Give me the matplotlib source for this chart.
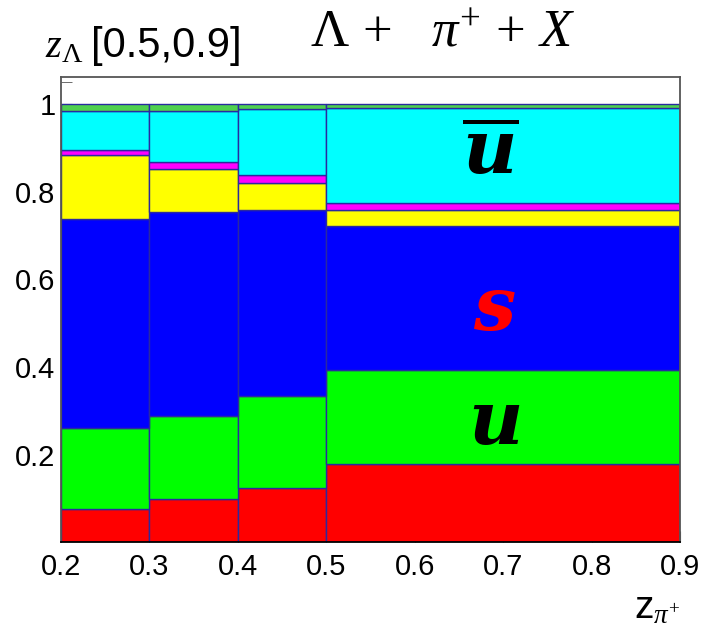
import numpy as np
import matplotlib
matplotlib.use('Agg')
import matplotlib.pyplot as plt

plt.rcParams['font.family'] = ['Liberation Sans', 'DejaVu Sans']
plt.rcParams['mathtext.fontset'] = 'custom'
plt.rcParams['mathtext.rm'] = 'Liberation Serif'
plt.rcParams['mathtext.it'] = 'Liberation Serif:italic'
plt.rcParams['mathtext.bf'] = 'DejaVu Serif:italic:bold'

# z_pi bins and fraction of each contribution (stacked, bottom -> top)
bin_edges = [0.2, 0.3, 0.4, 0.5, 0.9]
frac_red = [0.076, 0.098, 0.125, 0.179]
frac_green = [0.184, 0.191, 0.210, 0.214]
frac_blue = [0.478, 0.465, 0.424, 0.330]
frac_yellow = [0.147, 0.099, 0.062, 0.035]
frac_magenta = [0.011, 0.015, 0.017, 0.016]
frac_cyan = [0.089, 0.117, 0.151, 0.217]
frac_rest = [0.015, 0.015, 0.011, 0.009]

layers = [frac_red, frac_green, frac_blue, frac_yellow, frac_magenta, frac_cyan, frac_rest]
colors = ['#ff0000', '#00ff00', '#0000ff', '#ffff00', '#ff00ff', '#00ffff', '#4fd04f']

fig = plt.figure(figsize=(7.05, 6.34), dpi=100)
ax = fig.add_axes([61/705, 1 - 542.3/634, 619/705, 465.6/634])

left = np.array(bin_edges[:-1])
width = np.diff(bin_edges)
bottom = np.zeros(len(left))
for vals, c in zip(layers, colors):
    ax.bar(left, vals, width=width, bottom=bottom, align='edge', color=c,
           edgecolor='#2a2aa0', linewidth=1.0)
    bottom += np.array(vals)

ax.set_xlim(0.2, 0.9)
ax.set_ylim(0, 1.063)
ax.set_xticks([0.2, 0.3, 0.4, 0.5, 0.6, 0.7, 0.8, 0.9])
ax.set_xticklabels(['0.2', '0.3', '0.4', '0.5', '0.6', '0.7', '0.8', '0.9'])
ax.set_yticks([0.2, 0.4, 0.6, 0.8, 1.0])
ax.set_yticklabels(['0.2', '0.4', '0.6', '0.8', '1'])
ax.set_yticks([1.05], minor=True)
ax.set_axisbelow(True)
ax.tick_params(axis='both', which='both', direction='in', labelsize=21,
               color='#555555', length=8)
ax.tick_params(axis='y', pad=4)
ax.tick_params(axis='x', pad=8)
for sp in ax.spines.values():
    sp.set_color('#555555')
    sp.set_linewidth(1.3)
ax.spines['bottom'].set_color('black')

# quark labels
ax.text(0.685, 0.885, r'$\overline{\mathbf{u}}$', fontsize=54, ha='center', va='center')
ax.text(0.69, 0.53, r'$\mathbf{s}$', fontsize=54, ha='center', va='center', color='#ff0000')
ax.text(0.69, 0.268, r'$\mathbf{u}$', fontsize=54, ha='center', va='center')

# header texts
fig.text(45/705, 1 - 57/634, r'$z_{\Lambda}$', fontsize=29, ha='left', va='baseline')
fig.text(91/705, 1 - 57/634, '[0.5,0.9]', fontsize=30, ha='left', va='baseline')
fig.text(310/705, 1 - 47/634, r'$\Lambda\,+\;\;\;\pi^{+}\,+\,X$', fontsize=38,
         ha='left', va='baseline')

# x axis title
fig.text(680/705, 1 - 618/634, r'z$_{\pi^{+}}$', fontsize=28, ha='right', va='baseline')

fig.savefig('out.png', dpi=100)
